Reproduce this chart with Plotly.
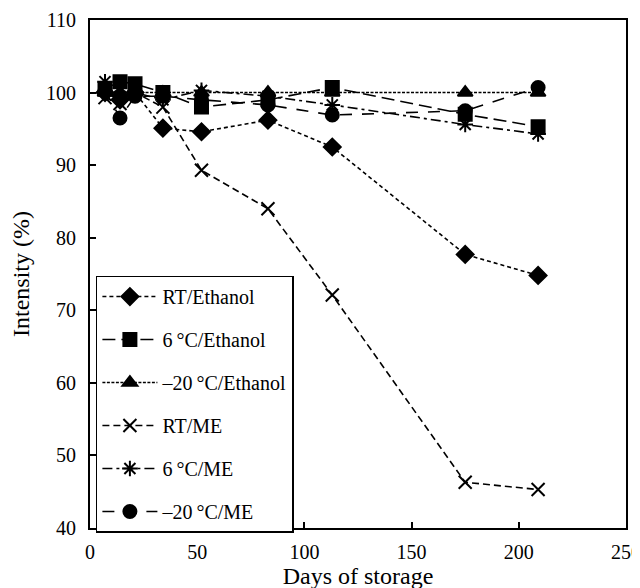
import plotly.graph_objects as go

days = [7, 14, 21, 34, 52, 83, 113, 175, 209]

series_names = ["RT/Ethanol", "6\u2009°C/Ethanol", "\u201320\u2009°C/Ethanol",
                "RT/ME", "6\u2009°C/ME", "\u201320\u2009°C/ME"]

rt_ethanol = [100.0, 99.0, 100.0, 95.1, 94.6, 96.2, 92.5, 77.7, 74.8]
c6_ethanol = [100.5, 101.5, 101.2, 100.0, 98.0, 99.0, 100.7, 97.0, 95.3]
m20_ethanol = [100.0, 100.0, 100.0, 100.0, 100.0, 100.0, 100.0, 100.0, 100.0]
rt_me = [99.3, 98.5, 100.0, 98.0, 89.3, 84.0, 72.1, 46.3, 45.3]
c6_me = [101.5, 99.5, 100.0, 99.0, 100.3, 99.5, 98.3, 95.6, 94.3]
m20_me = [100.3, 96.5, 99.5, 99.5, 99.0, 98.3, 96.9, 97.5, 100.7]

x_ticks = [0, 50, 100, 150, 200, 250]
y_ticks = [40, 50, 60, 70, 80, 90, 100, 110]

values = [rt_ethanol, c6_ethanol, m20_ethanol, rt_me, c6_me, m20_me]
symbols = ["diamond", "square", "triangle-up", "x-thin-open", "asterisk-open", "circle"]
sizes = [13, 13, 13, 13, 13, 13]
dashes = ["4px,3px", "13px,6px", "3px,1.5px", "7px,4px", "10px,4px,3px,4px", "12px,10px"]

fig = go.Figure()
for i, (name, vals) in enumerate(zip(series_names, values)):
    fig.add_trace(go.Scatter(
        x=days, y=vals, name=name, mode="lines+markers",
        legendgroup=f"g{i}",
        line=dict(color="black", width=1.6, dash=dashes[i]),
        marker=dict(symbol=symbols[i], size=sizes[i], color="black",
                    line=dict(color="black", width=2)),
    ))

font_family = "Liberation Serif, Times New Roman, serif"
fig.update_layout(
    width=640, height=588,
    margin=dict(l=82, r=22, t=12, b=68),
    paper_bgcolor="white", plot_bgcolor="white",
    font=dict(family=font_family, size=20, color="black"),
    showlegend=True,
    legend=dict(x=0.011, y=0.497, xanchor="left", yanchor="top",
                bordercolor="black", borderwidth=1.5, bgcolor="white",
                font=dict(family=font_family, size=20, color="black"),
                tracegroupgap=14, itemwidth=55),
)
fig.update_xaxes(range=[0, 250], tickvals=x_ticks, automargin=False,
                 ticklabeloverflow="allow", ticklabelstandoff=5,
                 ticks="inside", ticklen=6, tickwidth=1.5, tickcolor="black",
                 showline=True, linecolor="black", linewidth=2, mirror=True,
                 showgrid=False, zeroline=False,
                 title=dict(text="Days of storage", standoff=5))
fig.update_yaxes(range=[40, 110], tickvals=y_ticks, automargin=False,
                 ticklabeloverflow="allow", ticklabelstandoff=8,
                 ticks="inside", ticklen=6, tickwidth=1.5, tickcolor="black",
                 showline=True, linecolor="black", linewidth=2, mirror=True,
                 showgrid=False, zeroline=False,
                 title=dict(text="Intensity (%)", standoff=20))

fig.write_html("out.html")
